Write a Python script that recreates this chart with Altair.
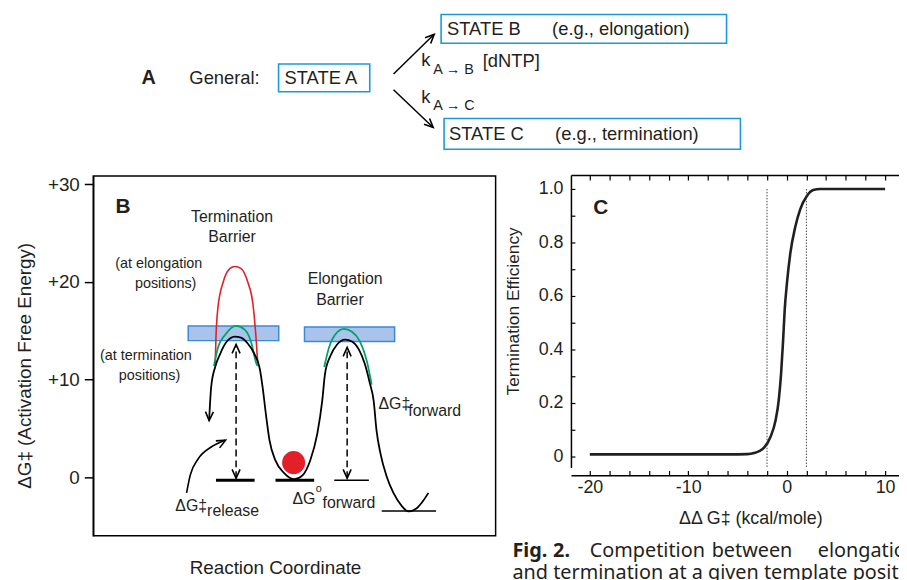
import altair as alt
import pandas as pd

FONT = "Liberation Sans"
CAPTION_FONT = "Noto Sans"
INK = "#231f20"
BOX_BLUE = "#1b9ad7"
BAR_FILL = "#a9c3ea"
BAR_STROKE = "#3b8ad6"
GREEN = "#00a36c"
RED = "#e3202a"
V_HEAD = "M -0.67 1.5 L 0 0 L 0.67 1.5"

# ---------------- Panel A : kinetic scheme (page units) ----------------
a_box_x = [281, 445, 448]
a_box_x2 = [373, 733, 747]
a_box_y = [62, 12, 117]
a_box_y2 = [90, 41, 148]

a_arrow_id = ["up", "up", "down", "down"]
a_arrow_x = [397, 438, 397, 437]
a_arrow_y = [72, 32, 88, 126]
a_head_x = [438, 437]
a_head_y = [32, 126]
a_head_angle = [45, 134]

a_label = ["A"]
a_label_x = [150]
a_label_y = [76]
a_text = ["General:", "STATE A", "STATE B", "(e.g., elongation)", "STATE C",
          "(e.g., termination)", "k", "[dNTP]", "k"]
a_text_x = [191, 287, 451, 557, 453, 560, 425, 487, 425]
a_text_y = [76, 76, 27, 27, 133, 133, 58, 59, 95]
a_sub_text = ["A \u2192 B", "A \u2192 C"]
a_sub_x = [437, 437]
a_sub_y = [68, 104]

cap_bold = ["Fig.", "2."]
cap_bold_x = [517, 558]
cap_bold_y = [553, 553]
cap_words = ["Competition", "between", "elongation",
             "and termination at a given template position"]
cap_x = [595, 718, 825, 517]
cap_y = [553, 553, 553, 576]

# ---------------- Panel B : free-energy landscape ----------------
b_black_x = [28.8, 29.3, 30.3, 31.5, 33.0, 35.2, 36.7, 38.4, 40.1, 41.4, 42.1, 42.9, 43.8,
             45.3, 47.5, 50.0, 52.0, 53.9, 55.7, 56.9, 57.6, 58.9, 60.6, 62.6, 64.3, 66.0,
             67.5, 68.7, 69.7, 70.4, 71.4, 72.9, 74.6, 76.6, 78.3, 80.3, 82.0, 83.3]
b_black_y = [5.8, 9.2, 11.3, 12.6, 13.8, 14.4, 14.3, 13.7, 12.6, 11.1, 9.2, 6.5, 3.8,
             1.7, 0.4, -0.2, 0.2, 1.7, 4.5, 7.8, 10.6, 12.4, 13.6, 14.1, 13.9, 13.1,
             11.6, 9.7, 7.8, 4.8, 2.4, 0.1, -1.6, -2.9, -3.5, -3.2, -2.4, -1.6]
b_green_id = ["t"] * 8 + ["e"] * 8
b_green_x = [30.0, 31.0, 32.8, 35.5, 37.7, 39.2, 40.6, 40.9,
             57.4, 58.6, 60.1, 62.3, 64.3, 66.3, 68.0, 69.2]
b_green_y = [11.4, 13.3, 14.6, 15.5, 15.1, 13.9, 11.6, 11.4,
             11.3, 13.3, 14.6, 15.2, 14.9, 13.9, 11.9, 9.5]
b_red_x = [30.3, 30.5, 31.0, 32.3, 34.0, 35.2, 36.7, 38.4, 39.7, 40.4, 40.9]
b_red_y = [11.4, 14.3, 17.4, 20.0, 21.4, 21.6, 21.4, 20.0, 17.7, 14.6, 11.6]

b_bar_x = [23.6, 52.5]
b_bar_x2 = [46.1, 74.9]
b_bar_y = [15.5, 15.4]
b_bar_y2 = [14.0, 13.9]

b_dash_x = [35.5, 63.1]
b_dash_y = [-0.1, -0.1]
b_dash_y2 = [13.6, 13.3]

b_level_x = [30.5, 45.3, 59.9, 71.7]
b_level_x2 = [40.1, 54.9, 68.5, 85.2]
b_level_y = [-0.3, -0.3, -0.3, -3.45]
b_level_w = [3.0, 3.0, 1.5, 1.5]

b_release_x = [23.2, 24.1, 26.1, 29.3, 32.8]
b_release_y = [-1.6, 0.2, 1.9, 3.1, 3.8]

b_head_x = [28.8, 35.5, 35.5, 63.1, 63.1, 32.9]
b_head_y = [5.8, 13.6, -0.1, 13.3, -0.1, 3.8]
b_head_angle = [182, 0, 180, 0, 180, 62]

b_dot_x = [49.8]
b_dot_y = [1.5]

b_title_text = ["Termination", "Barrier", "Elongation", "Barrier"]
b_title_x = [34.5, 34.5, 62.6, 61.3]
b_title_y = [26.7, 24.6, 20.3, 18.2]
b_paren_text = ["(at elongation", "positions)", "(at termination", "positions)"]
b_paren_x = [16.3, 18.0, 13.1, 14.0]
b_paren_y = [21.8, 19.8, 12.4, 10.4]
b_sym_text = ["\u0394G\u2021", "forward", "\u0394G\u2021", "release", "\u0394G", "forward"]
b_sym_x = [70.9, 78.3, 20.4, 28.3, 49.5, 57.0]
b_sym_y = [7.5, 6.8, -2.9, -3.45, -2.2, -2.6]
b_sup_text = ["o"]
b_sup_x = [55.3]
b_sup_y = [-1.2]
b_frame = {"x": [0], "x2": [100], "y": [-6.0], "y2": [30.86]}
b_ticks = [0, 10, 20, 30]

# ---------------- Panel C : termination efficiency ----------------
c_curve_x = [-20, -12, -6, -4, -3.3, -2.8, -2.3, -1.65, -1.14, -0.81, -0.57, -0.37, -0.2,
             0.03, 0.37, 0.88, 1.38, 2.05, 2.7, 3.4, 6, 10]
c_curve_y = [0.008, 0.008, 0.008, 0.009, 0.013, 0.02, 0.033, 0.073, 0.134, 0.21, 0.31, 0.43,
             0.55, 0.65, 0.76, 0.86, 0.925, 0.974, 0.996, 1.0, 1.0, 1.0]
c_dot_x = [-2.0, 2.0]
c_dot_y = [1.0, 1.0]
c_xticks = [-20, -18, -16, -14, -12, -10, -8, -6, -4, -2, 0, 2, 4, 6, 8, 10]
c_yticks = [0, 0.1, 0.2, 0.3, 0.4, 0.5, 0.6, 0.7, 0.8, 0.9, 1.0]
c_xlim = [-21.92, 11.41]
c_ylim = [-0.0407, 1.052]

# ---------------- scales ----------------
xA = alt.Scale(domain=[8, 907], range=[0, 899], nice=False, zero=False)
yA = alt.Scale(domain=[8, 580], range=[0, 572], nice=False, zero=False)
xB = alt.Scale(domain=[0, 100], range=[86, 492], nice=False, zero=False)
yB = alt.Scale(domain=[-6.0, 30.86], range=[530, 167], nice=False, zero=False)
xC = alt.Scale(domain=c_xlim, range=[568, 899], nice=False, zero=False)
yC = alt.Scale(domain=c_ylim, range=[461, 166], nice=False, zero=False)


def X(sc, axis=None):
    return alt.X("x:Q", scale=sc, axis=axis)


def Y(sc, axis=None):
    return alt.Y("y:Q", scale=sc, axis=axis)


def texts(t, xs, ys, xsc, ysc, size, weight="normal", align="left", font=FONT):
    df = pd.DataFrame({"t": t, "x": xs, "y": ys})
    return alt.Chart(df).mark_text(
        align=align, baseline="middle", fontSize=size, fontWeight=weight,
        font=font, color=INK
    ).encode(x=X(xsc), y=Y(ysc), text="t:N")


def heads(xs, ys, angs, xsc, ysc):
    df = pd.DataFrame({"x": xs, "y": ys, "a": angs})
    return alt.Chart(df).mark_point(
        shape=V_HEAD, filled=False, size=144, strokeWidth=1.6, color="black",
        strokeJoin="miter", opacity=1
    ).encode(x=X(xsc), y=Y(ysc), angle=alt.Angle("a:Q", scale=None))


# ---------------- Panel A layers ----------------
a_layers = [
    alt.Chart(pd.DataFrame({"x": a_box_x, "x2": a_box_x2, "y": a_box_y, "y2": a_box_y2})).mark_rect(
        fill="white", stroke=BOX_BLUE, strokeWidth=1.6
    ).encode(x=X(xA), x2="x2:Q", y=Y(yA), y2="y2:Q"),
    alt.Chart(pd.DataFrame({"id": a_arrow_id, "x": a_arrow_x, "y": a_arrow_y})).mark_line(
        color="black", strokeWidth=1.5
    ).encode(x=X(xA), y=Y(yA), detail="id:N"),
    heads(a_head_x, a_head_y, a_head_angle, xA, yA),
    texts(a_label, a_label_x, a_label_y, xA, yA, 20, "bold", "center"),
    texts(a_text, a_text_x, a_text_y, xA, yA, 18.5),
    texts(a_sub_text, a_sub_x, a_sub_y, xA, yA, 14.5),
    texts(cap_bold, cap_bold_x, cap_bold_y, xA, yA, 20, "bold", "left", CAPTION_FONT),
    texts(cap_words, cap_x, cap_y, xA, yA, 20, "normal", "left", CAPTION_FONT),
]

# ---------------- Panel B layers ----------------
b_axis = alt.Axis(
    orient="left", offset=-86, values=b_ticks,
    labelExpr="datum.value > 0 ? '+' + datum.value : '' + datum.value",
    tickSize=9, tickWidth=1.5, tickColor="black",
    domain=True, domainColor="black", domainWidth=1.5,
    labelFontSize=19, labelPadding=5, labelColor=INK, labelFont=FONT,
    title="\u0394G\u2021 (Activation Free Energy)", titleFontSize=19, titleFontWeight="normal",
    titleFont=FONT, titleColor=INK, titleX=-69, titleY=358, titleBaseline="middle",
    titleAngle=270, grid=False,
)
b_layers = [
    alt.Chart(pd.DataFrame(b_frame)).mark_rect(
        fill="white", fillOpacity=0, stroke="black", strokeWidth=1.5
    ).encode(x=X(xB), x2="x2:Q", y=Y(yB, b_axis), y2="y2:Q"),
    alt.Chart(pd.DataFrame({"x": b_bar_x, "x2": b_bar_x2, "y": b_bar_y, "y2": b_bar_y2})).mark_rect(
        fill=BAR_FILL, stroke=BAR_STROKE, strokeWidth=1.5
    ).encode(x=X(xB), x2="x2:Q", y=Y(yB), y2="y2:Q"),
    alt.Chart(pd.DataFrame({"x": b_red_x, "y": b_red_y})).mark_line(
        color=RED, strokeWidth=1.6, interpolate="monotone"
    ).encode(x=X(xB), y=Y(yB)),
    alt.Chart(pd.DataFrame({"id": b_green_id, "x": b_green_x, "y": b_green_y})).mark_line(
        color=GREEN, strokeWidth=1.8, interpolate="monotone"
    ).encode(x=X(xB), y=Y(yB), detail="id:N"),
    alt.Chart(pd.DataFrame({"x": b_black_x, "y": b_black_y})).mark_line(
        color="black", strokeWidth=1.8, interpolate="monotone"
    ).encode(x=X(xB), y=Y(yB)),
    alt.Chart(pd.DataFrame({"x": b_release_x, "y": b_release_y})).mark_line(
        color="black", strokeWidth=1.6, interpolate="monotone"
    ).encode(x=X(xB), y=Y(yB)),
    alt.Chart(pd.DataFrame({"x": b_dash_x, "y": b_dash_y, "y2": b_dash_y2})).mark_rule(
        color="black", strokeWidth=1.5, strokeDash=[7, 4]
    ).encode(x=X(xB), y=Y(yB), y2="y2:Q"),
    alt.Chart(pd.DataFrame({"x": b_level_x, "x2": b_level_x2, "y": b_level_y, "w": b_level_w})).mark_rule(
        color="black"
    ).encode(x=X(xB), x2="x2:Q", y=Y(yB), strokeWidth=alt.StrokeWidth("w:Q", scale=None)),
    alt.Chart(pd.DataFrame({"x": b_dot_x, "y": b_dot_y})).mark_point(
        shape="circle", filled=True, size=540, color=RED, opacity=1
    ).encode(x=X(xB), y=Y(yB)),
    heads(b_head_x, b_head_y, b_head_angle, xB, yB),
    texts(["B"], [7.4], [27.7], xB, yB, 21, "bold", "center"),
    texts(b_title_text, b_title_x, b_title_y, xB, yB, 16, "normal", "center"),
    texts(b_paren_text, b_paren_x, b_paren_y, xB, yB, 14.5, "normal", "center"),
    texts(b_sym_text, b_sym_x, b_sym_y, xB, yB, 16),
    texts(b_sup_text, b_sup_x, b_sup_y, xB, yB, 11),
    texts(["Reaction Coordinate"], [45.3], [-9.3], xB, yB, 19, "normal", "center"),
]

# ---------------- Panel C layers ----------------
# ticks point into the plot (negative tick size given as an expression)
c_xlab_axis = alt.Axis(
    orient="bottom", offset=-103, values=c_xticks,
    labelExpr="datum.value % 10 == 0 ? '' + datum.value : ''",
    ticks=True, tickSize=alt.ExprRef(expr="-5"), tickWidth=1.2, tickColor="black",
    domain=True, domainColor="black", domainWidth=1.5,
    labelFontSize=18, labelPadding=8, labelColor=INK, labelFont=FONT, labelFlush=False,
    title="\u0394\u0394 G\u2021 (kcal/mole)", titleFontSize=18, titleFontWeight="normal",
    titleFont=FONT, titleColor=INK, titleX=749, titleY=44, titleBaseline="middle", grid=False,
)
c_ylab_axis = alt.Axis(
    orient="left", offset=-568, values=c_yticks,
    labelExpr="datum.value == 0 ? '0' : (round(datum.value * 10) % 2 == 0 ? format(datum.value, '.1f') : '')",
    ticks=True, tickSize=alt.ExprRef(expr="-4"), tickWidth=1.2, tickColor="black",
    domain=True, domainColor="black", domainWidth=1.5,
    labelFontSize=18, labelPadding=12, labelColor=INK, labelFont=FONT,
    title="Termination Efficiency", titleFontSize=17.5, titleFontWeight="normal",
    titleFont=FONT, titleColor=INK, titleX=-58, titleY=303, titleBaseline="middle",
    titleAngle=270, grid=False,
)
# the top edge of the frame, with its own ticks pointing down into the plot
c_top_axis = alt.Axis(
    orient="bottom", offset=-406, values=c_xticks, labels=False,
    ticks=True, tickSize=5, tickWidth=1.2, tickColor="black",
    domain=True, domainColor="black", domainWidth=1.5,
    title=" ", titleFontSize=1, grid=False,
)

c_layers = [
    alt.Chart(pd.DataFrame({"x": c_curve_x, "y": c_curve_y})).mark_line(
        color=INK, strokeWidth=2.6, interpolate="monotone"
    ).encode(x=X(xC, c_xlab_axis), y=Y(yC, c_ylab_axis)),
    alt.Chart(pd.DataFrame({"x": c_dot_x, "y": c_dot_y, "y2": [c_ylim[0]] * 2})).mark_rule(
        color="#444444", strokeWidth=1, strokeDash=[1.5, 1.5]
    ).encode(x=X(xC, c_top_axis), y=Y(yC), y2="y2:Q"),
    texts(["C"], [-18.9], [0.93], xC, yC, 21, "bold", "center"),
]

chart = alt.layer(*(a_layers + b_layers + c_layers)).resolve_scale(
    x="independent", y="independent"
).properties(
    width=899, height=572, padding=0, background="white",
    autosize=alt.AutoSizeParams(type="none"),
).configure_view(stroke=None)

chart.save("out.html", embed_options={"renderer": "svg", "actions": False})
